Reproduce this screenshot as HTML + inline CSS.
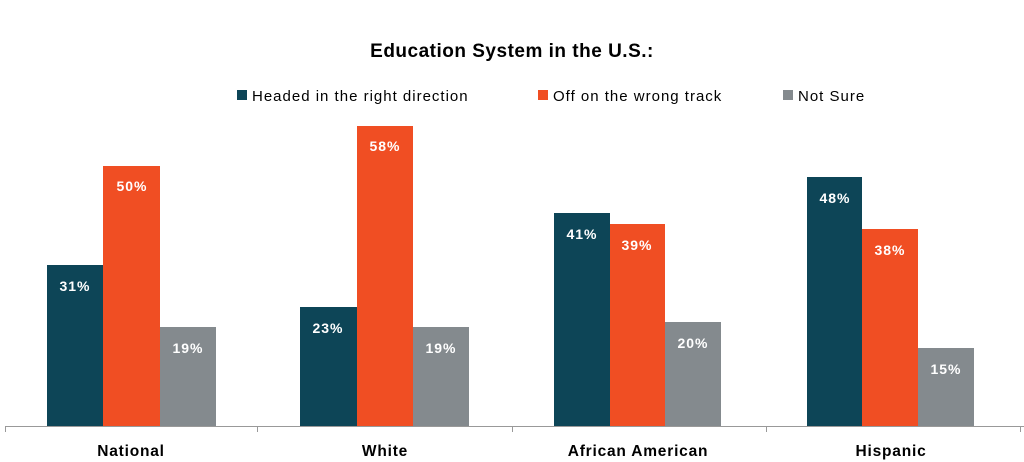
<!DOCTYPE html><html><head><style>body{margin:0;background:#fff}svg{display:block}text{font-family:"Liberation Sans",sans-serif}</style></head><body>
<svg width="1024" height="462" xmlns="http://www.w3.org/2000/svg">
<text x="512" y="57" text-anchor="middle" font-size="19" font-weight="bold" letter-spacing="0.5" fill="#000">Education  System in the U.S.:</text>
<rect x="237" y="90" width="10" height="10" fill="#0d4557"/><text x="252" y="101" font-size="15" letter-spacing="1" fill="#000">Headed in the right direction</text>
<rect x="538" y="90" width="10" height="10" fill="#f04e23"/><text x="553" y="101" font-size="15" letter-spacing="1" fill="#000">Off on the wrong track</text>
<rect x="783" y="90" width="10" height="10" fill="#848a8e"/><text x="798" y="101" font-size="15" letter-spacing="1" fill="#000">Not Sure</text>
<g font-size="14" font-weight="bold" fill="#fff" text-anchor="middle" letter-spacing="1">
<rect x="47" y="265" width="56" height="161" fill="#0d4557"/><text x="75" y="291">31%</text>
<rect x="103" y="166" width="57" height="260" fill="#f04e23"/><text x="132" y="191">50%</text>
<rect x="160" y="327" width="56" height="99" fill="#848a8e"/><text x="188" y="353">19%</text>
<rect x="300" y="307" width="57" height="119" fill="#0d4557"/><text x="328" y="333">23%</text>
<rect x="357" y="126" width="56" height="300" fill="#f04e23"/><text x="385" y="151">58%</text>
<rect x="413" y="327" width="56" height="99" fill="#848a8e"/><text x="441" y="353">19%</text>
<rect x="554" y="213" width="56" height="213" fill="#0d4557"/><text x="582" y="239">41%</text>
<rect x="610" y="224" width="55" height="202" fill="#f04e23"/><text x="637" y="250">39%</text>
<rect x="665" y="322" width="56" height="104" fill="#848a8e"/><text x="693" y="348">20%</text>
<rect x="807" y="177" width="55" height="249" fill="#0d4557"/><text x="835" y="203">48%</text>
<rect x="862" y="229" width="56" height="197" fill="#f04e23"/><text x="890" y="255">38%</text>
<rect x="918" y="348" width="56" height="78" fill="#848a8e"/><text x="946" y="374">15%</text>
</g>
<g stroke="#999" stroke-width="1" fill="none">
<line x1="5" y1="426.5" x2="1024" y2="426.5"/>
<line x1="5.5" y1="426" x2="5.5" y2="432"/><line x1="257.5" y1="426" x2="257.5" y2="432"/>
<line x1="512.5" y1="426" x2="512.5" y2="432"/><line x1="766.5" y1="426" x2="766.5" y2="432"/><line x1="1020.5" y1="426" x2="1020.5" y2="432"/>
</g>
<g font-size="15.5" font-weight="bold" fill="#000" text-anchor="middle" letter-spacing="0.8">
<text x="131" y="456">National</text><text x="385" y="456">White</text><text x="638" y="456">African American</text><text x="891" y="456">Hispanic</text>
</g>
</svg></body></html>
